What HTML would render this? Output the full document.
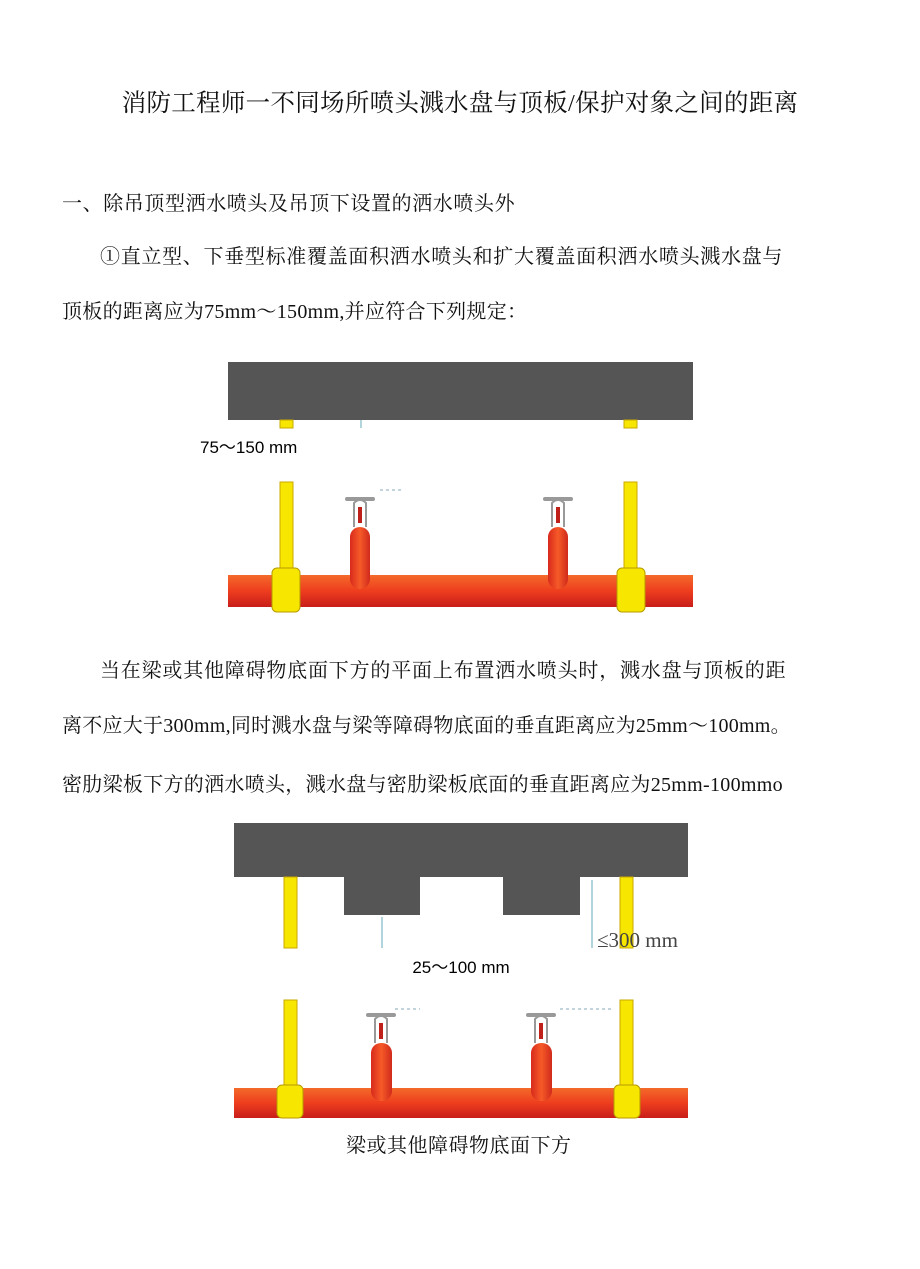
<!DOCTYPE html>
<html><head><meta charset="utf-8"><style>
body{margin:0;width:920px;height:1269px;background:#fff;position:relative;font-family:"Liberation Serif","Noto Serif CJK SC",serif;color:#111}
.t{position:absolute;white-space:nowrap;font-size:20px;line-height:1}
svg{position:absolute;left:0;top:0}
</style></head><body>
<div class="t" style="left:0;width:920px;text-align:center;top:92px;font-size:24.5px;letter-spacing:0.3px">消防工程师一不同场所喷头溅水盘与顶板/保护对象之间的距离</div>
<div class="t" style="left:62px;top:194px;letter-spacing:0.6px">一、除吊顶型洒水喷头及吊顶下设置的洒水喷头外</div>
<div class="t" style="left:100px;top:247px;letter-spacing:0.7px">①直立型、下垂型标准覆盖面积洒水喷头和扩大覆盖面积洒水喷头溅水盘与</div>
<div class="t" style="left:62px;top:302px;letter-spacing:0.3px">顶板的距离应为75mm〜150mm,并应符合下列规定：</div>
<div class="t" style="left:100px;top:661px;letter-spacing:0.8px">当在梁或其他障碍物底面下方的平面上布置洒水喷头时，溅水盘与顶板的距</div>
<div class="t" style="left:62px;top:716px;letter-spacing:0.25px">离不应大于300mm,同时溅水盘与梁等障碍物底面的垂直距离应为25mm〜100mm。</div>
<div class="t" style="left:62px;top:775px;letter-spacing:0.3px">密肋梁板下方的洒水喷头，溅水盘与密肋梁板底面的垂直距离应为25mm-100mmo</div>
<div class="t" style="left:346px;top:1136px;letter-spacing:0.5px">梁或其他障碍物底面下方</div>
<svg width="920" height="1269" viewBox="0 0 920 1269">
<defs>
<linearGradient id="rp" x1="0" y1="0" x2="0" y2="1"><stop offset="0" stop-color="#f46a2a"/><stop offset="0.5" stop-color="#ee3d1e"/><stop offset="1" stop-color="#c81e1a"/></linearGradient>
<linearGradient id="rr" x1="0" y1="0" x2="1" y2="0"><stop offset="0" stop-color="#d82a1c"/><stop offset="0.5" stop-color="#f65a28"/><stop offset="1" stop-color="#d02a1c"/></linearGradient>
<g id="head">
<path d="M-6 0 V-24 Q0 -30 6 -24 V0" fill="none" stroke="#999" stroke-width="2"/>
<rect x="-2" y="-20" width="4" height="16" fill="#c0201a"/>
<rect x="-15" y="-30" width="30" height="4" rx="2" fill="#999"/>
</g>
</defs>
<rect x="228" y="362" width="465" height="58" fill="#555"/>
<rect x="280" y="420" width="13" height="8" fill="#f7e600" stroke="#c8a800"/>
<rect x="624" y="420" width="13" height="8" fill="#f7e600" stroke="#c8a800"/>
<rect x="280" y="482" width="13" height="95" fill="#f7e600" stroke="#c8a800"/>
<rect x="624" y="482" width="13" height="95" fill="#f7e600" stroke="#c8a800"/>
<rect x="228" y="575" width="465" height="32" fill="url(#rp)"/>
<rect x="350" y="527" width="20" height="62" rx="10" fill="url(#rr)"/>
<rect x="548" y="527" width="20" height="62" rx="10" fill="url(#rr)"/>
<use href="#head" x="360" y="527"/><use href="#head" x="558" y="527"/>
<line x1="380" y1="490" x2="402" y2="490" stroke="#8ab" stroke-dasharray="3 3"/>
<line x1="361" y1="420" x2="361" y2="428" stroke="#6ab"/>
<rect x="272" y="568" width="28" height="44" rx="5" fill="#f7e600" stroke="#b89a00"/>
<rect x="617" y="568" width="28" height="44" rx="5" fill="#f7e600" stroke="#b89a00"/>
<text x="200" y="453" font-family="Liberation Sans, Noto Sans CJK SC, sans-serif" font-size="17">75〜150 mm</text>
<path d="M234 823 H688 V877 H580 V915 H503 V877 H420 V915 H344 V877 H234 Z" fill="#555"/>
<rect x="284" y="877" width="13" height="71" fill="#f7e600" stroke="#c8a800"/>
<rect x="620" y="877" width="13" height="71" fill="#f7e600" stroke="#c8a800"/>
<rect x="284" y="1000" width="13" height="90" fill="#f7e600" stroke="#c8a800"/>
<rect x="620" y="1000" width="13" height="90" fill="#f7e600" stroke="#c8a800"/>
<line x1="382" y1="917" x2="382" y2="948" stroke="#6ab"/>
<line x1="592" y1="880" x2="592" y2="948" stroke="#6ab"/>
<rect x="234" y="1088" width="454" height="30" fill="url(#rp)"/>
<rect x="371" y="1043" width="21" height="58" rx="10" fill="url(#rr)"/>
<rect x="531" y="1043" width="21" height="58" rx="10" fill="url(#rr)"/>
<use href="#head" x="381" y="1043"/><use href="#head" x="541" y="1043"/>
<line x1="395" y1="1009" x2="420" y2="1009" stroke="#8ab" stroke-dasharray="3 3"/>
<line x1="560" y1="1009" x2="612" y2="1009" stroke="#8ab" stroke-dasharray="3 3"/>
<rect x="277" y="1085" width="26" height="33" rx="5" fill="#f7e600" stroke="#b89a00"/>
<rect x="614" y="1085" width="26" height="33" rx="5" fill="#f7e600" stroke="#b89a00"/>
<text x="597" y="947" font-family="Liberation Serif, serif" font-size="21" fill="#444">≤300 mm</text>
<text x="461" y="973" text-anchor="middle" font-family="Liberation Sans, Noto Sans CJK SC, sans-serif" font-size="17">25〜100 mm</text>
</svg>
</body></html>
